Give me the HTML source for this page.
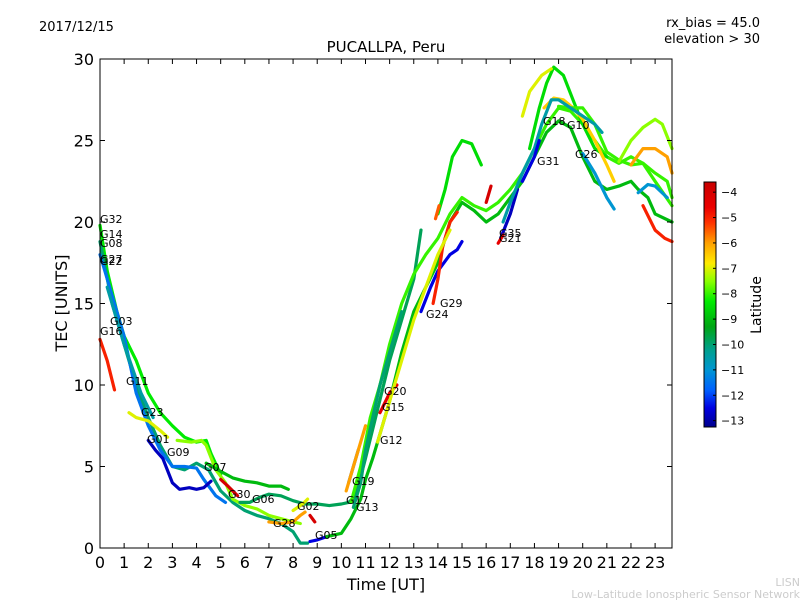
<!DOCTYPE html>
<html><head><meta charset="utf-8"><style>
body{margin:0;background:#fff;}
svg{display:block;font-family:"DejaVu Sans","Liberation Sans",sans-serif;}
</style></head><body>
<svg id="chart" width="800" height="600">
<rect width="800" height="600" fill="#fff"/>
<text x="39" y="31" font-size="13">2017/12/15</text>
<text x="760" y="27" font-size="13" text-anchor="end">rx_bias = 45.0</text>
<text x="760" y="43" font-size="13" text-anchor="end">elevation &gt; 30</text>
<text x="386" y="52" font-size="15" text-anchor="middle">PUCALLPA, Peru</text>
<text x="386" y="590" font-size="16" text-anchor="middle">Time [UT]</text>
<text transform="translate(67,303) rotate(-90)" font-size="16" text-anchor="middle">TEC [UNITS]</text>
<text transform="translate(761,305) rotate(-90)" font-size="14" text-anchor="middle">Latitude</text>
<text x="800" y="586" font-size="11" fill="#ccc" text-anchor="end">LISN</text>
<text x="800" y="598" font-size="11" fill="#ccc" text-anchor="end">Low-Latitude Ionospheric Sensor Network</text>
<g id="tracks"></g>
<g id="labels" font-size="11"></g>
<rect x="100" y="59" width="572" height="489" fill="none" stroke="#000" stroke-width="1"/>
<g id="axes"></g>
<g id="cbar"></g>
</svg>
<script>
const xTicks=[0,1,2,3,4,5,6,7,8,9,10,11,12,13,14,15,16,17,18,19,20,21,22,23];
const yTicks=[0,5,10,15,20,25,30];
const cTicks=[-4,-5,-6,-7,-8,-9,-10,-11,-12,-13];
const latMin=-13.25, latMax=-3.6;
// each track: times, tec values, latitude (colour)
const trackLats=[-5,-8.3,-10,-11.5,-12.8,-7,-7.5,-9,-9.8,-4,-6,-7,-4,-12.5,-9,-8,-8.5,-7,-6.5,-8,-11,-11,-7.5,-6,-5,-8.5,-5.5,-12.5,-5,-4.5,-7,-12.8,-4.5,-10.5,-12.5,-4,-11.5,-6,-10,-10.5];
const trackT=[
[0,0.3,0.6],
[0,0.3,0.7,1,1.5,2,2.5,3,3.5,4,4.4,4.6,5],
[0,0.5,1,1.5,2,2.5,3,3.5,4,4.5,5,5.5,6,6.5,7,7.5,8,8.3,8.6],
[0,0.5,1,1.5,2,2.5,3,3.5,4,4.3,4.8,5.2],
[2,2.3,2.6,3,3.3,3.7,4,4.3,4.6],
[1.2,1.5,2,2.5,2.8],
[3.2,3.8,4.2,4.4,4.8,5.2,5.5,6,6.5,7,7.5,8,8.3],
[4.4,5,5.5,6,6.5,7,7.5,7.8],
[5.8,6.2,6.6,7,7.5,8,8.5,9,9.5,10,10.3,10.6,11,11.5,12,12.5,13,13.3],
[5,5.3,5.5,5.7],
[7,7.5,8,8.3,8.5],
[8,8.4,8.6],
[8.7,8.9],
[8.7,9,9.4],
[9.4,10,10.4,10.8,11,11.3,11.7,12,12.5,13,13.5,14,14.5,15,15.5,16,16.5,17,17.5,18,18.5,19,19.5,20,20.5,21,21.5,22,22.3,22.7,23,23.7],
[10.4,10.8,11.2,11.6,12,12.5,13,13.5,14,14.5,15,15.5,16,16.5,17,17.5,18,18.5,19,19.5,20,20.5,21,21.5,22,22.5,23,23.5,23.7],
[17.8,18.2,18.5,18.8,19.2,19.6,20,20.5,21],
[17.5,17.8,18.3,18.7],
[18.4,18.8,19.2,19.6,20,20.5,21,21.3],
[19,19.5,20,20.5,21,21.5,22,22.5,23,23.7],
[20,20.5,21,21.3],
[22.3,22.7,23,23.5],
[21.5,22,22.5,23,23.3,23.7],
[22,22.5,23,23.5,23.7],
[22.5,23,23.4,23.7],
[14,14.3,14.6,15,15.4,15.8],
[13.9,14.05],
[13.3,13.7,14,14.5,14.8,15],
[13.8,14,14.2,14.5,14.8],
[11.6,12,12.3],
[11.5,12,12.5,13,13.5,14,14.5],
[16.6,17,17.3],
[16.5,16.7],
[16.7,17,17.5,18,18.3,18.7,19,19.5,20,20.5,20.8],
[17.5,18,18.2],
[16,16.2],
[10.3,10.5,10.7],
[10.2,10.5,11],
[10.5,10.8,11,11.3,11.6,12,12.5],
[0.3,1,1.7,2.2]
];
const trackV=[
[12.8,11.5,9.7],
[19.8,17,14.5,13,11.5,9.5,8.3,7.5,6.8,6.5,6.6,5.8,4.5],
[18.8,15,12.5,10,8,6.3,5,4.8,5.2,4.8,3.5,2.8,2.3,2,1.8,1.5,1,0.3,0.3],
[18,15.5,13,9.5,7.5,6,5,5,4.9,4.2,3.2,2.8],
[6.6,6,5.5,4,3.6,3.7,3.6,3.7,4.1],
[8.3,8,7.8,7.2,6.8],
[6.6,6.5,6.6,6.3,4.8,4,3,2.6,2.4,2,1.8,1.6,1.5],
[5.2,4.7,4.3,4.1,4,3.8,3.8,3.6],
[2.8,2.8,3.1,3.3,3.2,2.9,2.7,2.7,2.6,2.7,2.8,3.2,5.5,8.5,11.5,14,16.5,19.5],
[4.2,3.8,3.5,3.2],
[1.6,1.5,1.6,2,2.2],
[2.3,2.7,3],
[2,1.6],
[0.4,0.5,0.7],
[0.7,0.9,1.8,3,4.2,5.5,7.5,9,12,14.5,16,17.5,20,21.2,20.7,20,20.5,21.5,22.5,24,25.5,26.2,25.8,24,22.5,22,22.2,22.5,22,21.5,20.5,20],
[2.8,5,8,10,12.5,15,16.8,18,19,20.5,21.5,21,20.7,21.2,22,23,24.5,26,27,26.8,26,25,24,23.6,24,23.6,23,22.5,21.5],
[24.5,27,28.5,29.5,29,27.5,26,24.5,24],
[26.5,28,29,29.4],
[27,27.6,27.5,27,26.3,25,23.5,22.5],
[27.1,27,27,26,24.3,23.8,23.5,23.6,22.5,21],
[24.2,23,21.5,20.8],
[21.8,22.3,22.2,21.5],
[23.7,25,25.8,26.3,26,24.5],
[23.5,24.5,24.5,24,23],
[21,19.5,19,18.8],
[20.5,22,24,25,24.8,23.5],
[20.2,21],
[14.5,16,17,18,18.3,18.8],
[15,16.5,18.5,20,20.6],
[8.3,9.5,10],
[6.5,9,11.5,14,16,18,19.5],
[19,20.5,22],
[18.7,19.2],
[20,21.2,23,24.5,26,27.5,27.5,27,26.5,26,25.5],
[22.5,24,25],
[21.2,22.2],
[4,5,6],
[3.5,5,7.5],
[2.5,4,6,8,10,12,14.5],
[16,12.5,9.5,8]
];
const X0=100,X1=672,XMAX=23.7,Y0=548,Y1=59,YMAX=30;
function xs(t){return X0+t*(X1-X0)/XMAX;}
function ys(v){return Y0-v*(Y0-Y1)/YMAX;}
const cmapStops=[[-13.25,[0,0,140]],[-12.5,[0,0,225]],[-11.8,[0,96,255]],[-11,[0,150,210]],[-10.2,[0,160,140]],[-9.3,[0,165,20]],[-8.3,[0,235,0]],[-7.5,[140,255,0]],[-6.8,[255,235,0]],[-6,[255,160,0]],[-5.2,[255,50,0]],[-4.6,[235,0,0]],[-3.6,[200,0,0]]];
function jet(lat){
 if(lat<=cmapStops[0][0])return `rgb(${cmapStops[0][1].join(',')})`;
 for(let i=1;i<cmapStops.length;i++){if(lat<=cmapStops[i][0]){const a=cmapStops[i-1],b=cmapStops[i];const f=(lat-a[0])/(b[0]-a[0]);
  return 'rgb('+[0,1,2].map(k=>Math.round(a[1][k]+f*(b[1][k]-a[1][k]))).join(',')+')';}}
 return `rgb(${cmapStops[cmapStops.length-1][1].join(',')})`;}
const NS='http://www.w3.org/2000/svg';
const tg=document.getElementById('tracks');
for(let i=0;i<trackT.length;i++){
 const p=document.createElementNS(NS,'polyline');
 p.setAttribute('points',trackT[i].map((t,j)=>xs(t).toFixed(1)+','+ys(trackV[i][j]).toFixed(1)).join(' '));
 p.setAttribute('fill','none');p.setAttribute('stroke',jet(trackLats[i]));
 p.setAttribute('stroke-width','3.2');p.setAttribute('stroke-linejoin','round');p.setAttribute('stroke-linecap','round');
 
 
 tg.appendChild(p);
}
const labNames=['G32','G14','G08','G27','G22','G03','G16','G11','G23','G01','G09','G07','G30','G06','G02','G28','G05','G17','G13','G19','G12','G15','G20','G24','G29','G35','G21','G31','G18','G10','G26'];
const labPos=[[100,223],[100,238],[100,247],[100,263],[100,265],[110,325],[100,335],[126,385],[141,416],[147,443],[167,456],[204,471],[228,498],[252,503],[297,510],[273,527],[315,539],[346,504],[356,511],[352,485],[380,444],[382,411],[384,395],[426,318],[440,307],[499,237],[499,242],[537,165],[543,125],[567,129],[575,158]];
const lg=document.getElementById('labels');
labNames.forEach((n,i)=>{const t=document.createElementNS(NS,'text');
 t.setAttribute('x',labPos[i][0]);t.setAttribute('y',labPos[i][1]);t.textContent=n;
 
 
 lg.appendChild(t);});
const ax=document.getElementById('axes');
function line(x1,y1,x2,y2,g){const l=document.createElementNS(NS,'line');l.setAttribute('x1',x1);l.setAttribute('y1',y1);l.setAttribute('x2',x2);l.setAttribute('y2',y2);l.setAttribute('stroke','#000');g.appendChild(l);return l;}
function txt(x,y,s,fs,anchor,g){const t=document.createElementNS(NS,'text');t.setAttribute('x',x);t.setAttribute('y',y);t.setAttribute('font-size',fs);t.setAttribute('text-anchor',anchor);t.textContent=s;g.appendChild(t);return t;}
xTicks.forEach(v=>{const x=xs(v);
 const a=line(x,Y0,x,Y0-5,ax);
 const b=line(x,Y1,x,Y1+5,ax);
 const t=txt(x,568,String(v),16,'middle',ax);});
yTicks.forEach(v=>{const y=ys(v);
 const a=line(X0,y,X0+5,y,ax);
 const b=line(X1,y,X1-5,y,ax);
 const t=txt(94,y+6,String(v),16,'end',ax);});
const cb=document.getElementById('cbar');
const CX=704,CW=12,CT=182,CB=427;
function cy(l){return CT+(latMax-l)/(latMax-latMin)*(CB-CT);}
for(let k=0;k<245;k++){const r=document.createElementNS(NS,'rect');
 const lat=latMax-(k+0.5)/245*(latMax-latMin);
 r.setAttribute('x',CX);r.setAttribute('y',CT+k);r.setAttribute('width',CW);r.setAttribute('height',1.2);r.setAttribute('fill',jet(lat));
 
 
 cb.appendChild(r);}
const fr=document.createElementNS(NS,'rect');fr.setAttribute('x',CX);fr.setAttribute('y',CT);fr.setAttribute('width',CW);fr.setAttribute('height',CB-CT);fr.setAttribute('fill','none');fr.setAttribute('stroke','#000');


cb.appendChild(fr);
cTicks.forEach(v=>{const y=cy(v);
 const a=line(CX+CW-3,y,CX+CW,y,cb);
 const t=txt(CX+CW+5,y+4,'\u2212'+Math.abs(v),11,'start',cb);});
</script>
</body></html>
